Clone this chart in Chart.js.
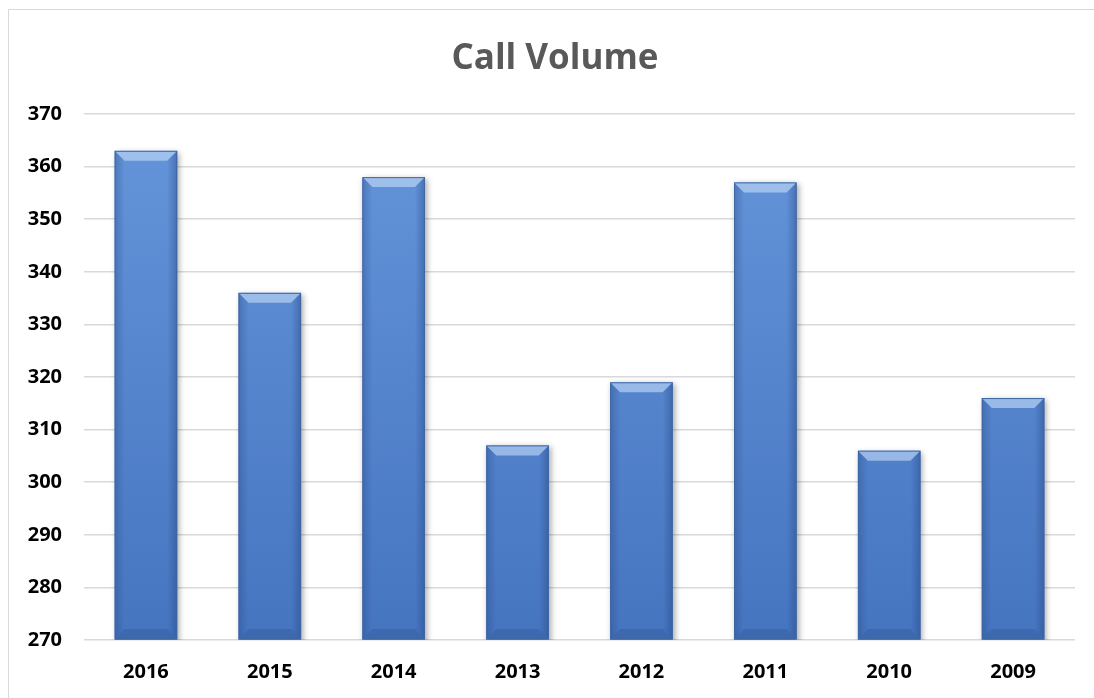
<!DOCTYPE html>
<html>
<head>
<meta charset="utf-8">
<script src="https://cdn.jsdelivr.net/npm/chart.js@4"></script>
<style>
  html, body { margin: 0; padding: 0; background: #fff; overflow: hidden; }
  canvas { display: block; }
</style>
</head>
<body>
<canvas id="myChart" width="1094" height="698"></canvas>
<script>
// chart data
const years = ['2016', '2015', '2014', '2013', '2012', '2011', '2010', '2009'];
const callVolume = [363, 336, 358, 307, 319, 357, 306, 316];
const yTicks = [270, 280, 290, 300, 310, 320, 330, 340, 350, 360, 370];

const FONT = '"Open Sans", Lato, sans-serif';

// light frame round the chart (its right/bottom edges fall outside the picture)
// and title centred on that frame rather than on the canvas
const framePlugin = {
  id: 'frame',
  afterLayout(chart) {
    if (chart.titleBlock) {
      chart.titleBlock.left = 16;
      chart.titleBlock.right = chart.width;
    }
  },
  beforeDraw(chart) {
    const ctx = chart.ctx;
    ctx.save();
    ctx.strokeStyle = '#d9d9d9';
    ctx.lineWidth = 1;
    ctx.beginPath();
    ctx.moveTo(8.5, chart.height + 5);
    ctx.lineTo(8.5, 9.5);
    ctx.lineTo(chart.width + 5, 9.5);
    ctx.stroke();
    ctx.restore();
  }
};

// bevel facets + soft shadow drawn on top of the library's bar elements
const bevelPlugin = {
  id: 'bevel',
  beforeDatasetDraw(chart) {
    const ctx = chart.ctx;
    ctx.save();
    ctx.shadowColor = 'rgba(0,0,0,0.35)';
    ctx.shadowBlur = 6;
    ctx.shadowOffsetX = 2;
    ctx.shadowOffsetY = 2;
  },
  afterDatasetDraw(chart) {
    const ctx = chart.ctx;
    ctx.restore();
    const area = chart.chartArea;
    chart.getDatasetMeta(0).data.forEach(bar => {
      const p = bar.getProps(['x', 'y', 'base', 'width'], true);
      const l = p.x - p.width / 2, r = p.x + p.width / 2;
      const t = p.y, b = Math.min(p.base, area.bottom) - 1, d = 10;
      const poly = (pts, fill) => {
        ctx.beginPath();
        ctx.moveTo(pts[0][0], pts[0][1]);
        pts.slice(1).forEach(q => ctx.lineTo(q[0], q[1]));
        ctx.closePath();
        ctx.fillStyle = fill;
        ctx.fill();
      };
      ctx.save();
      // top facet (light)
      poly([[l, t], [r, t], [r - d, t + d], [l + d, t + d]], 'rgba(210,230,255,0.55)');
      // left facet
      let g = ctx.createLinearGradient(l, 0, l + d, 0);
      g.addColorStop(0, 'rgba(30,60,120,0.3)');
      g.addColorStop(1, 'rgba(30,60,120,0.0)');
      poly([[l, t], [l + d, t + d], [l + d, b - d], [l, b]], g);
      // right facet
      g = ctx.createLinearGradient(r - d, 0, r, 0);
      g.addColorStop(0, 'rgba(30,60,120,0.0)');
      g.addColorStop(1, 'rgba(30,60,120,0.38)');
      poly([[r, t], [r - d, t + d], [r - d, b - d], [r, b]], g);
      // bottom facet (dark)
      poly([[l, b], [l + d, b - d], [r - d, b - d], [r, b]], 'rgba(30,60,120,0.22)');
      // outline
      ctx.strokeStyle = '#3d67a3';
      ctx.lineWidth = 1;
      ctx.strokeRect(l + 0.5, t + 0.5, p.width - 1, b - t - 1);
      ctx.restore();
    });
  }
};

const ctx = document.getElementById('myChart').getContext('2d');
window.myChartInstance = new Chart(ctx, {
  type: 'bar',
  data: {
    labels: years,
    datasets: [{
      label: 'Call Volume',
      data: callVolume,
      backgroundColor: (c) => {
        const area = c.chart.chartArea;
        if (!area) return '#5a8ad0';
        const g = c.chart.ctx.createLinearGradient(0, area.top, 0, area.bottom);
        g.addColorStop(0, '#6595da');
        g.addColorStop(1, '#4675c0');
        return g;
      },
      borderWidth: 0,
      categoryPercentage: 1.0,
      barPercentage: 0.505
    }]
  },
  options: {
    responsive: false,
    animation: false,
    layout: { padding: { left: 0, right: 19, top: 0, bottom: 0 } },
    plugins: {
      legend: { display: false },
      tooltip: { enabled: false },
      title: {
        display: true,
        text: 'Call Volume',
        color: '#595959',
        font: { family: FONT, size: 35, weight: 'bold', lineHeight: 1.2 },
        padding: { top: 38, bottom: 34 }
      }
    },
    scales: {
      x: {
        grid: { display: false, drawTicks: false },
        border: { display: false },
        ticks: { color: '#000', font: { family: FONT, size: 20, weight: 'bold' }, padding: 20 },
        afterFit: (s) => { s.height = 58; }
      },
      y: {
        min: 270,
        max: 370,
        afterBuildTicks: (s) => { s.ticks = yTicks.map(v => ({ value: v })); },
        grid: { color: '#d9d9d9', lineWidth: 1.5, drawTicks: false },
        border: { display: false },
        ticks: { color: '#000', font: { family: FONT, size: 20, weight: 'bold' }, padding: 22 },
        afterFit: (s) => { s.width = 84; }
      }
    }
  },
  plugins: [framePlugin, bevelPlugin]
});
</script>
</body>
</html>
